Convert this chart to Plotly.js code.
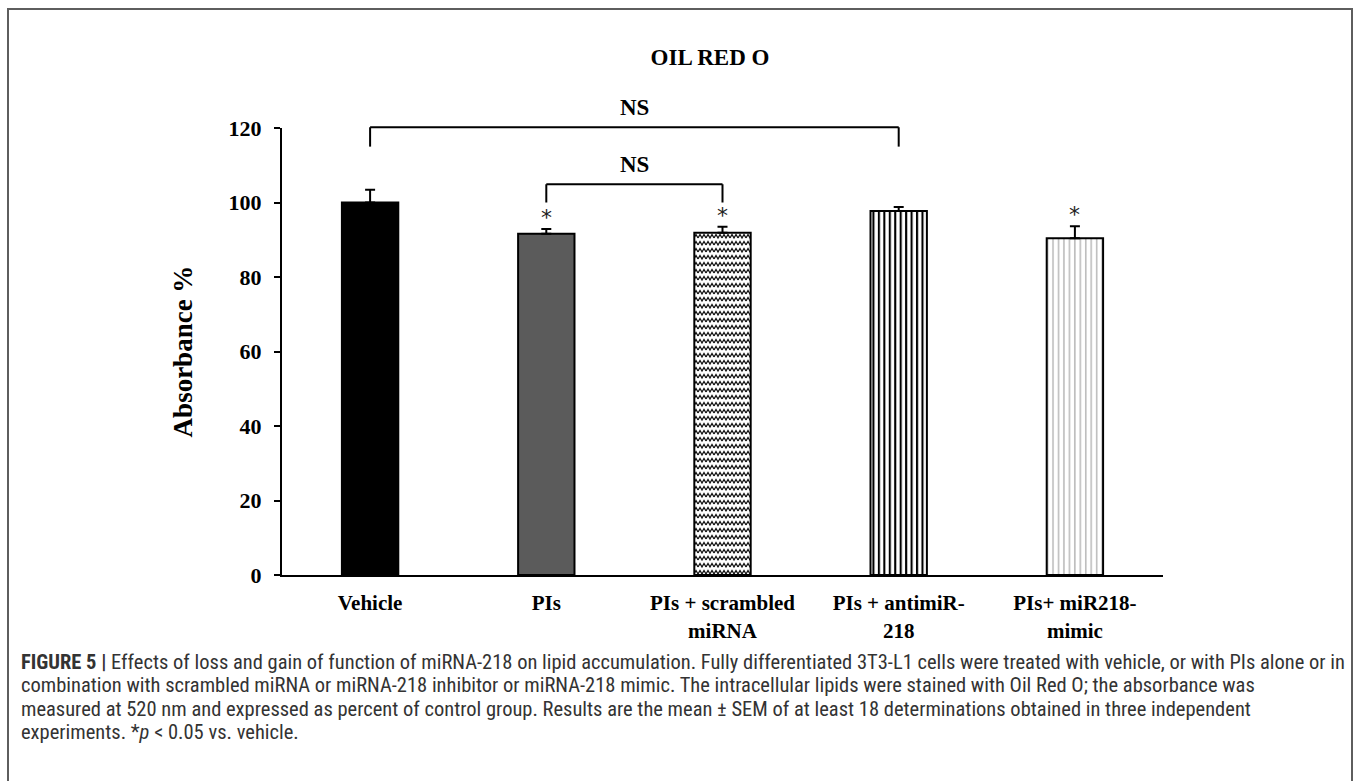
<!DOCTYPE html>
<html>
<head>
<meta charset="utf-8">
<script src="https://cdn.plot.ly/plotly-3.0.1.min.js"></script>
<style>
  html, body { margin: 0; padding: 0; background: #fff; }
  #wrap { position: relative; width: 1357px; height: 781px; overflow: hidden; }
  #chart { position: absolute; left: 0; top: 0; width: 1357px; height: 781px; }
  #frame { position: absolute; left: 7px; top: 8px; width: 1346px; height: 800px;
           border: 2px solid #5e5e5e; box-sizing: border-box; pointer-events: none; }
</style>
</head>
<body>
<div id="wrap">
  <div id="chart"></div>
  <div id="frame"></div>
</div>
<script>
// ---- data ----
const categories = ["Vehicle", "PIs", "PIs + scrambled<br>miRNA", "PIs + antimiR-<br>218", "PIs+ miR218-<br>mimic"];
const values = [100, 91.6, 91.9, 97.7, 90.4];
const errors = [3.4, 1.3, 1.6, 1.1, 3.2];
const significance = ["", "*", "*", "", "*"];
const yTicks = [0, 20, 40, 60, 80, 100, 120];
const comparisons = [ // [from index, to index, label]
  [0, 3, "NS"],
  [1, 2, "NS"]
];
const bracketLevels = [120.2, 104.9];
const bracketLegs = [115.0, 100.0];
const nsLevels = [125.5, 110.3];
const chartTitle = "OIL RED O";
const yTitle = "Absorbance %";
const captionLines = [
  "<b>FIGURE 5 |</b> Effects of loss and gain of function of miRNA-218 on lipid accumulation. Fully differentiated 3T3-L1 cells were treated with vehicle, or with PIs alone or in",
  "combination with scrambled miRNA or miRNA-218 inhibitor or miRNA-218 mimic. The intracellular lipids were stained with Oil Red O; the absorbance was",
  "measured at 520 nm and expressed as percent of control group. Results are the mean ± SEM of at least 18 determinations obtained in three independent",
  "experiments. *<i>p</i> &lt; 0.05 vs. vehicle."
];

// ---- styling (per bar) ----
const barFill = ["#000000", "#5b5b5b", "url(#zigzagfill)", "url(#stripeBlack)", "url(#stripeGray)"];

// ---- layout geometry ----
const W = 1357, H = 781;
const M = {l: 282, r: 194, t: 128, b: 206};
const PW = W - M.l - M.r, PH = H - M.t - M.b;
const pxX = px => (px - M.l) / PW;
const pxY = py => (H - M.b - py) / PH;
const serif = "Liberation Serif, Times New Roman, serif";
const YMAX = 120;

const trace = {
  type: "bar",
  x: categories,
  y: values,
  width: 0.32,
  marker: {
    color: ["#000000", "#5b5b5b", "#ffffff", "#ffffff", "#ffffff"],
    line: {color: "#000000", width: 2}
  },
  error_y: {
    type: "data", symmetric: false, array: errors,
    arrayminus: errors.map(() => 0),
    color: "#000", thickness: 2, width: 5
  },
  hoverinfo: "skip"
};

const shapes = [];
const annotations = [];
comparisons.forEach((c, i) => {
  const y0 = bracketLevels[i] / YMAX, y1 = bracketLegs[i] / YMAX;
  const lineStyle = {color: "#000", width: 2};
  shapes.push({type: "line", xref: "x", yref: "paper", x0: c[0], x1: c[1], y0: y0, y1: y0, line: lineStyle});
  shapes.push({type: "line", xref: "x", yref: "paper", x0: c[0], x1: c[0], y0: y0, y1: y1, line: lineStyle});
  shapes.push({type: "line", xref: "x", yref: "paper", x0: c[1], x1: c[1], y0: y0, y1: y1, line: lineStyle});
  annotations.push({
    xref: "x", yref: "paper", x: (c[0] + c[1]) / 2, y: nsLevels[i] / YMAX,
    text: "<b>" + c[2] + "</b>", showarrow: false, xanchor: "center", yanchor: "middle",
    font: {family: serif, size: 23, color: "#000"}
  });
});
significance.forEach((s, i) => {
  if (!s) return;
  annotations.push({
    xref: "x", yref: "y", x: i, y: values[i] + errors[i],
    text: s, showarrow: false, xanchor: "center", yanchor: "bottom", yshift: -3,
    font: {family: "DejaVu Sans, sans-serif", size: 22, color: "#222"}
  });
});
const capTop = 662, capStep = 23.3;
captionLines.forEach((t, i) => {
  annotations.push({
    xref: "paper", yref: "paper", x: pxX(19), y: pxY(capTop + i * capStep),
    text: t, showarrow: false, xanchor: "left", yanchor: "middle", align: "left",
    font: {family: "Liberation Sans Narrow, Roboto Condensed, Liberation Sans, sans-serif", size: 20.5, color: "#333"}
  });
});

const layout = {
  width: W, height: H,
  margin: M,
  paper_bgcolor: "#fff", plot_bgcolor: "#fff",
  showlegend: false,
  title: {
    text: "<b>" + chartTitle + "</b>", xref: "container", yref: "container",
    x: 710 / W, y: 1 - 57 / H, xanchor: "center", yanchor: "middle",
    font: {family: serif, size: 23, color: "#000"}
  },
  xaxis: {
    type: "category", range: [-0.5, 4.5],
    showline: true, linecolor: "#000", linewidth: 2,
    ticks: "", showgrid: false, zeroline: false,
    tickfont: {family: serif, size: 21, color: "#000", weight: "bold"},
    ticklabelstandoff: 8, fixedrange: true
  },
  yaxis: {
    range: [0, YMAX], tickvals: yTicks, ticktext: yTicks.map(String),
    showline: true, linecolor: "#000", linewidth: 2,
    ticks: "outside", ticklen: 6, tickwidth: 2, tickcolor: "#000",
    showgrid: false, zeroline: false,
    tickfont: {family: serif, size: 22, color: "#000", weight: "bold"},
    ticklabelstandoff: 8,
    title: {text: "<b>" + yTitle + "</b>", font: {family: serif, size: 27, color: "#000"}, standoff: 28},
    fixedrange: true
  },
  shapes: shapes,
  annotations: annotations
};

function makePattern(defs, id, w, h, children) {
  const NS = "http://www.w3.org/2000/svg";
  const pat = document.createElementNS(NS, "pattern");
  pat.setAttribute("id", id);
  pat.setAttribute("patternUnits", "userSpaceOnUse");
  pat.setAttribute("width", w);
  pat.setAttribute("height", h);
  const bg = document.createElementNS(NS, "rect");
  bg.setAttribute("width", w); bg.setAttribute("height", h); bg.setAttribute("fill", "#fff");
  pat.appendChild(bg);
  children.forEach(c => {
    const el = document.createElementNS(NS, c.tag);
    Object.keys(c.attrs).forEach(k => el.setAttribute(k, c.attrs[k]));
    pat.appendChild(el);
  });
  defs.appendChild(pat);
}

Plotly.newPlot("chart", [trace], layout, {staticPlot: true, displayModeBar: false}).then(() => {
  const svg = document.querySelector("#chart .main-svg");
  let defs = svg.querySelector("defs");
  makePattern(defs, "zigzagfill", 8, 7, [
    {tag: "path", attrs: {d: "M0,5 L2,1.5 L4,5 L6,1.5 L8,5", stroke: "#111", "stroke-width": "1.3", fill: "none"}}
  ]);
  makePattern(defs, "stripeBlack", 5.45, 10, [
    {tag: "rect", attrs: {x: "1.8", y: "0", width: "2.1", height: "10", fill: "#000"}}
  ]);
  makePattern(defs, "stripeGray", 5.45, 10, [
    {tag: "rect", attrs: {x: "1.8", y: "0", width: "1.6", height: "10", fill: "#bdbdbd"}}
  ]);
  const pts = document.querySelectorAll("#chart .barlayer .point path");
  pts.forEach((p, i) => { p.style.fill = barFill[i]; });
});
</script>
</body>
</html>
